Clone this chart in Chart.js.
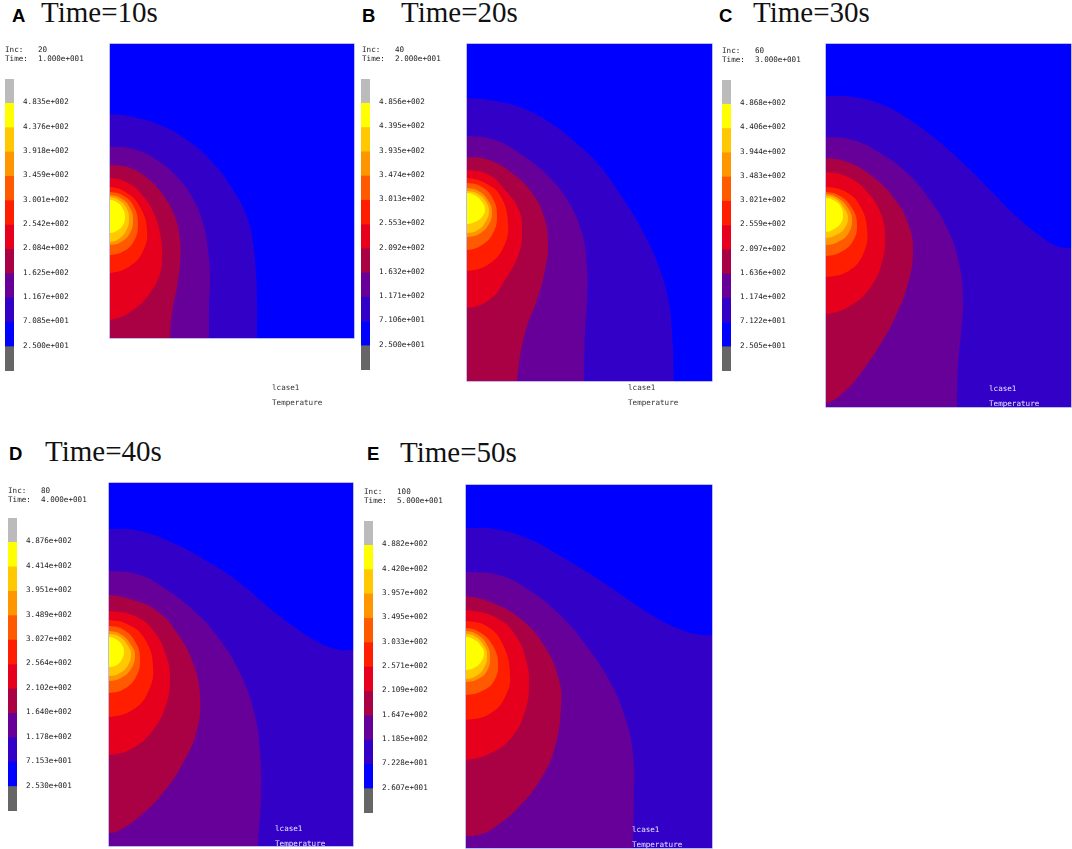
<!DOCTYPE html>
<html>
<head>
<meta charset="utf-8">
<title>Temperature fields</title>
<script src="https://cdn.jsdelivr.net/npm/chart.js@4"></script>
<style>
  body { margin: 0; background: #fff; width: 1072px; height: 849px; position: relative; overflow: hidden; }
  canvas { position: absolute; }
  .plot { background: #0000ff; filter: blur(0.5px); box-shadow: 0 0 0 0.6px #8f8fe8; }
  .bar { filter: blur(0.4px); }
  .txt { position: absolute; white-space: pre; line-height: 1; }
  .mono { font: 7.6px "DejaVu Sans Mono", monospace; color: #222; filter: blur(0.35px); }
  .letter { font: bold 18.5px "Liberation Sans", Arial, sans-serif; color: #000; }
  .title { font: 29px "Liberation Serif", "Times New Roman", serif; color: #111; }
</style>
</head>
<body>
<script>
const panelLetters = ["A", "B", "C", "D", "E"];
const panelTitles = ["Time=10s", "Time=20s", "Time=30s", "Time=40s", "Time=50s"];
const incValues = ["20", "40", "60", "80", "100"];
const timeValues = ["1.000e+001", "2.000e+001", "3.000e+001", "4.000e+001", "5.000e+001"];

const labelsA = ["4.835e+002", "4.376e+002", "3.918e+002", "3.459e+002", "3.001e+002", "2.542e+002", "2.084e+002", "1.625e+002", "1.167e+002", "7.085e+001", "2.500e+001"];
const labelsB = ["4.856e+002", "4.395e+002", "3.935e+002", "3.474e+002", "3.013e+002", "2.553e+002", "2.092e+002", "1.632e+002", "1.171e+002", "7.106e+001", "2.500e+001"];
const labelsC = ["4.868e+002", "4.406e+002", "3.944e+002", "3.483e+002", "3.021e+002", "2.559e+002", "2.097e+002", "1.636e+002", "1.174e+002", "7.122e+001", "2.505e+001"];
const labelsD = ["4.876e+002", "4.414e+002", "3.951e+002", "3.489e+002", "3.027e+002", "2.564e+002", "2.102e+002", "1.640e+002", "1.178e+002", "7.153e+001", "2.530e+001"];
const labelsE = ["4.882e+002", "4.420e+002", "3.957e+002", "3.495e+002", "3.033e+002", "2.571e+002", "2.109e+002", "1.647e+002", "1.185e+002", "7.228e+001", "2.607e+001"];

// band colours, outer contour first
const bandColors = ["#3300c8", "#660099", "#aa0044", "#e6001e", "#ff1e00", "#ff5a00", "#ff9600", "#ffc800", "#ffff00"];
// colour bar, bottom to top
const legendColors = ["#666666", "#0000ff", "#3300c8", "#660099", "#aa0044", "#e6001e", "#ff1e00", "#ff5a00", "#ff9600", "#ffc800", "#ffff00", "#bbbbbb"];

// isotherm outlines, [across, down] from the top left of each field
const contoursA = [
  [[0,70],[23,73],[50,81],[77,96],[103,119],[123,146],[137,173],[143,199],[146,229],[147,256],[147,294]],
  [[0,103],[23,105],[47,116],[67,133],[82,153],[93,179],[98,206],[100,233],[99,263],[99,294]],
  [[0,121],[20,124],[37,134],[53,151],[65,173],[70,196],[70,219],[67,243],[62,269],[60,294]],
  [[0,134],[18,139],[33,152],[45,172],[51,195],[52,212],[50,229],[40,249],[23,266],[0,276]],
  [[0,143],[17,149],[30,163],[37,186],[33,207],[20,222],[0,229]],
  [[0,148],[14,152],[24,163],[28,180],[24,197],[14,207],[0,211]],
  [[0,151],[12,155],[20,164],[23,176],[20,189],[11,198],[0,201]],
  [[0,153],[10,157],[17,165],[19,175],[17,185],[10,194],[0,198]],
  [[0,156],[8,159],[13,165],[15,173],[13,181],[8,186],[0,189]]
];
const contoursB = [
  [[0,54],[28,57],[55,64],[82,78],[108,98],[132,121],[155,153],[175,186],[192,223],[202,259],[205,289],[207,337]],
  [[0,92],[28,96],[55,111],[82,133],[102,159],[115,189],[120,223],[120,256],[118,289],[117,337]],
  [[0,113],[22,116],[45,129],[65,149],[77,173],[81,199],[78,226],[70,256],[58,289],[50,337]],
  [[0,126],[22,131],[38,146],[52,166],[55,186],[52,209],[38,236],[22,256],[0,264]],
  [[0,134],[20,140],[34,153],[41,179],[37,202],[22,220],[0,227]],
  [[0,139],[15,143],[26,155],[30,172],[26,189],[15,201],[0,206]],
  [[0,144],[13,148],[22,158],[25,168],[22,180],[12,190],[0,193]],
  [[0,147],[11,150],[19,158],[22,167],[19,177],[11,186],[0,189]],
  [[0,149],[9,152],[15,158],[18,165],[15,173],[8,178],[0,180]]
];
const contoursC = [
  [[0,52],[27,53],[57,61],[84,76],[111,96],[137,119],[164,146],[191,173],[217,194],[231,202],[245,204]],
  [[0,93],[27,96],[54,109],[81,129],[104,156],[122,186],[133,219],[137,256],[135,289],[132,323],[131,363]],
  [[0,114],[24,119],[47,133],[67,153],[82,179],[87,209],[81,243],[71,269],[57,296],[37,326],[17,349],[0,359]],
  [[0,128],[24,134],[42,149],[55,170],[59,193],[56,218],[44,244],[24,262],[0,270]],
  [[0,143],[20,148],[34,162],[41,185],[38,208],[24,226],[0,233]],
  [[0,148],[14,152],[26,164],[31,180],[27,197],[15,208],[0,212]],
  [[0,150],[12,154],[22,164],[26,176],[22,190],[12,198],[0,201]],
  [[0,152],[10,155],[18,164],[22,174],[18,185],[10,191],[0,194]],
  [[0,154],[9,157],[15,163],[17,171],[15,179],[8,185],[0,188]]
];
const contoursD = [
  [[0,46],[31,48],[64,60],[98,78],[131,100],[158,123],[184,143],[211,160],[231,167],[244,167]],
  [[0,88],[31,92],[58,107],[84,127],[108,153],[131,190],[146,233],[151,270],[152,313],[149,363]],
  [[0,112],[24,117],[48,128],[68,150],[84,180],[91,213],[88,247],[74,280],[54,310],[31,333],[11,347],[0,350]],
  [[0,128],[28,134],[46,150],[57,172],[61,195],[57,222],[44,247],[24,265],[0,272]],
  [[0,137],[22,143],[37,158],[44,183],[40,207],[25,226],[0,234]],
  [[0,143],[15,147],[27,160],[31,176],[27,194],[15,206],[0,210]],
  [[0,148],[13,152],[22,162],[26,172],[22,186],[12,195],[0,198]],
  [[0,151],[11,154],[19,163],[22,171],[19,182],[11,190],[0,193]],
  [[0,154],[8,157],[13,162],[15,169],[13,176],[8,182],[0,184]]
];
const contoursE = [
  [[0,43],[29,44],[63,54],[96,72],[129,92],[163,115],[189,132],[216,145],[236,150],[246,150]],
  [[0,87],[33,90],[63,105],[93,129],[119,159],[143,195],[159,232],[167,269],[168,312],[167,363]],
  [[0,111],[29,119],[56,135],[79,162],[93,195],[95,222],[89,262],[76,292],[53,322],[29,342],[16,349],[0,351]],
  [[0,125],[31,133],[50,151],[60,175],[63,199],[59,226],[46,252],[25,268],[0,275]],
  [[0,136],[22,142],[37,160],[44,189],[40,210],[25,228],[0,235]],
  [[0,143],[15,148],[27,161],[32,178],[28,196],[16,206],[0,210]],
  [[0,146],[12,150],[21,160],[24,172],[21,186],[12,194],[0,197]],
  [[0,149],[10,152],[18,161],[21,170],[18,183],[10,191],[0,194]],
  [[0,152],[9,155],[15,161],[18,168],[15,177],[8,183],[0,185]]
];

const allLabels = [labelsA, labelsB, labelsC, labelsD, labelsE];
const allContours = [contoursA, contoursB, contoursC, contoursD, contoursE];

// page layout of each panel
const layouts = [
  { plot: [110, 44, 244, 294], bar: [5, 79, 9, 292], letter: [12, 5], title: [41, -4], inc: [5, 45], val: 38, note: [272, 383], noteColor: "#333" },
  { plot: [467, 44, 245, 337], bar: [361, 79, 9, 291], letter: [362, 5], title: [401, -4], inc: [362, 45], val: 395, note: [628, 383], noteColor: "#333" },
  { plot: [826, 44, 245, 363], bar: [722, 80, 9, 291], letter: [719, 5], title: [753, -4], inc: [722, 46], val: 755, note: [989, 384], noteColor: "#e4e4ff" },
  { plot: [109, 483, 244, 363], bar: [8, 518, 9, 293], letter: [9, 443], title: [45, 435], inc: [8, 486], val: 41, note: [275, 824], noteColor: "#e4e4ff" },
  { plot: [466, 485, 246, 363], bar: [364, 521, 9, 292], letter: [367, 443], title: [400, 436], inc: [364, 487], val: 397, note: [632, 825], noteColor: "#e4e4ff" }
];

function addText(cls, text, x, y, color) {
  const el = document.createElement("div");
  el.className = "txt " + cls;
  el.textContent = text;
  el.style.left = x + "px";
  el.style.top = y + "px";
  if (color) el.style.color = color;
  document.body.appendChild(el);
}

function addCanvas(cls, x, y, w, h) {
  const c = document.createElement("canvas");
  c.className = cls;
  c.width = w;
  c.height = h;
  c.style.left = x + "px";
  c.style.top = y + "px";
  c.style.width = w + "px";
  c.style.height = h + "px";
  document.body.appendChild(c);
  return c;
}

// closes an isotherm around the plot edges, off the clipped area
function outline(pts, w, h) {
  const m = 30;
  const first = pts[0];
  const last = pts[pts.length - 1];
  const path = [[-m, first[1]], ...pts];
  if (last[0] >= w) {
    path.push([w + m, last[1]], [w + m, h + m], [-m, h + m]);
  } else if (last[1] >= h) {
    path.push([last[0], h + m], [-m, h + m]);
  } else {
    path.push([-m, last[1]]);
  }
  return path.map(p => ({ x: p[0], y: p[1] }));
}

function drawField(i) {
  const [x, y, w, h] = layouts[i].plot;
  const contours = allContours[i];
  new Chart(addCanvas("plot", x, y, w, h), {
    type: "scatter",
    data: {
      datasets: contours.map((pts, k) => ({
        data: outline(pts, w, h),
        showLine: true,
        fill: "shape",
        tension: 0.45,
        backgroundColor: bandColors[k],
        borderWidth: 0,
        pointRadius: 0,
        order: contours.length - k,
      })),
    },
    options: {
      responsive: false,
      animation: false,
      events: [],
      layout: { padding: 0 },
      plugins: { legend: { display: false }, tooltip: { enabled: false } },
      scales: {
        x: { type: "linear", min: 0, max: w, display: false },
        y: { type: "linear", min: 0, max: h, reverse: true, display: false },
      },
    },
  });
}

function drawColorBar(i) {
  const [x, y, w, h] = layouts[i].bar;
  const labels = allLabels[i];
  new Chart(addCanvas("bar", x, y, w + 62, h), {
    type: "bar",
    data: {
      labels: [""],
      datasets: legendColors.map(color => ({
        data: [1],
        backgroundColor: color,
        barPercentage: 1,
        categoryPercentage: 1,
      })),
    },
    options: {
      responsive: false,
      animation: false,
      events: [],
      layout: { padding: 0 },
      plugins: { legend: { display: false }, tooltip: { enabled: false } },
      scales: {
        x: { stacked: true, display: false },
        y: {
          stacked: true,
          position: "right",
          min: 0,
          max: legendColors.length,
          grid: { display: false, drawTicks: false },
          border: { display: false },
          afterFit: scale => {
            scale.width = 62;
            scale.paddingTop = 0;
            scale.paddingBottom = 0;
          },
          ticks: {
            stepSize: 1,
            autoSkip: false,
            maxRotation: 0,
            padding: 9,
            labelOffset: -1,
            color: "#222",
            font: { family: "'DejaVu Sans Mono', monospace", size: 7.6 },
            callback: v => labels[legendColors.length - 1 - v] || "",
          },
        },
      },
    },
  });
}

layouts.forEach((l, i) => {
  drawField(i);
  drawColorBar(i);
  addText("letter", panelLetters[i], l.letter[0], l.letter[1]);
  addText("title", panelTitles[i], l.title[0], l.title[1]);
  addText("mono", "Inc:", l.inc[0], l.inc[1]);
  addText("mono", incValues[i], l.val, l.inc[1]);
  addText("mono", "Time:", l.inc[0], l.inc[1] + 9);
  addText("mono", timeValues[i], l.val, l.inc[1] + 9);
  addText("mono", "lcase1", l.note[0], l.note[1], l.noteColor);
  addText("mono", "Temperature", l.note[0], l.note[1] + 15, l.noteColor);
});
</script>
</body>
</html>
